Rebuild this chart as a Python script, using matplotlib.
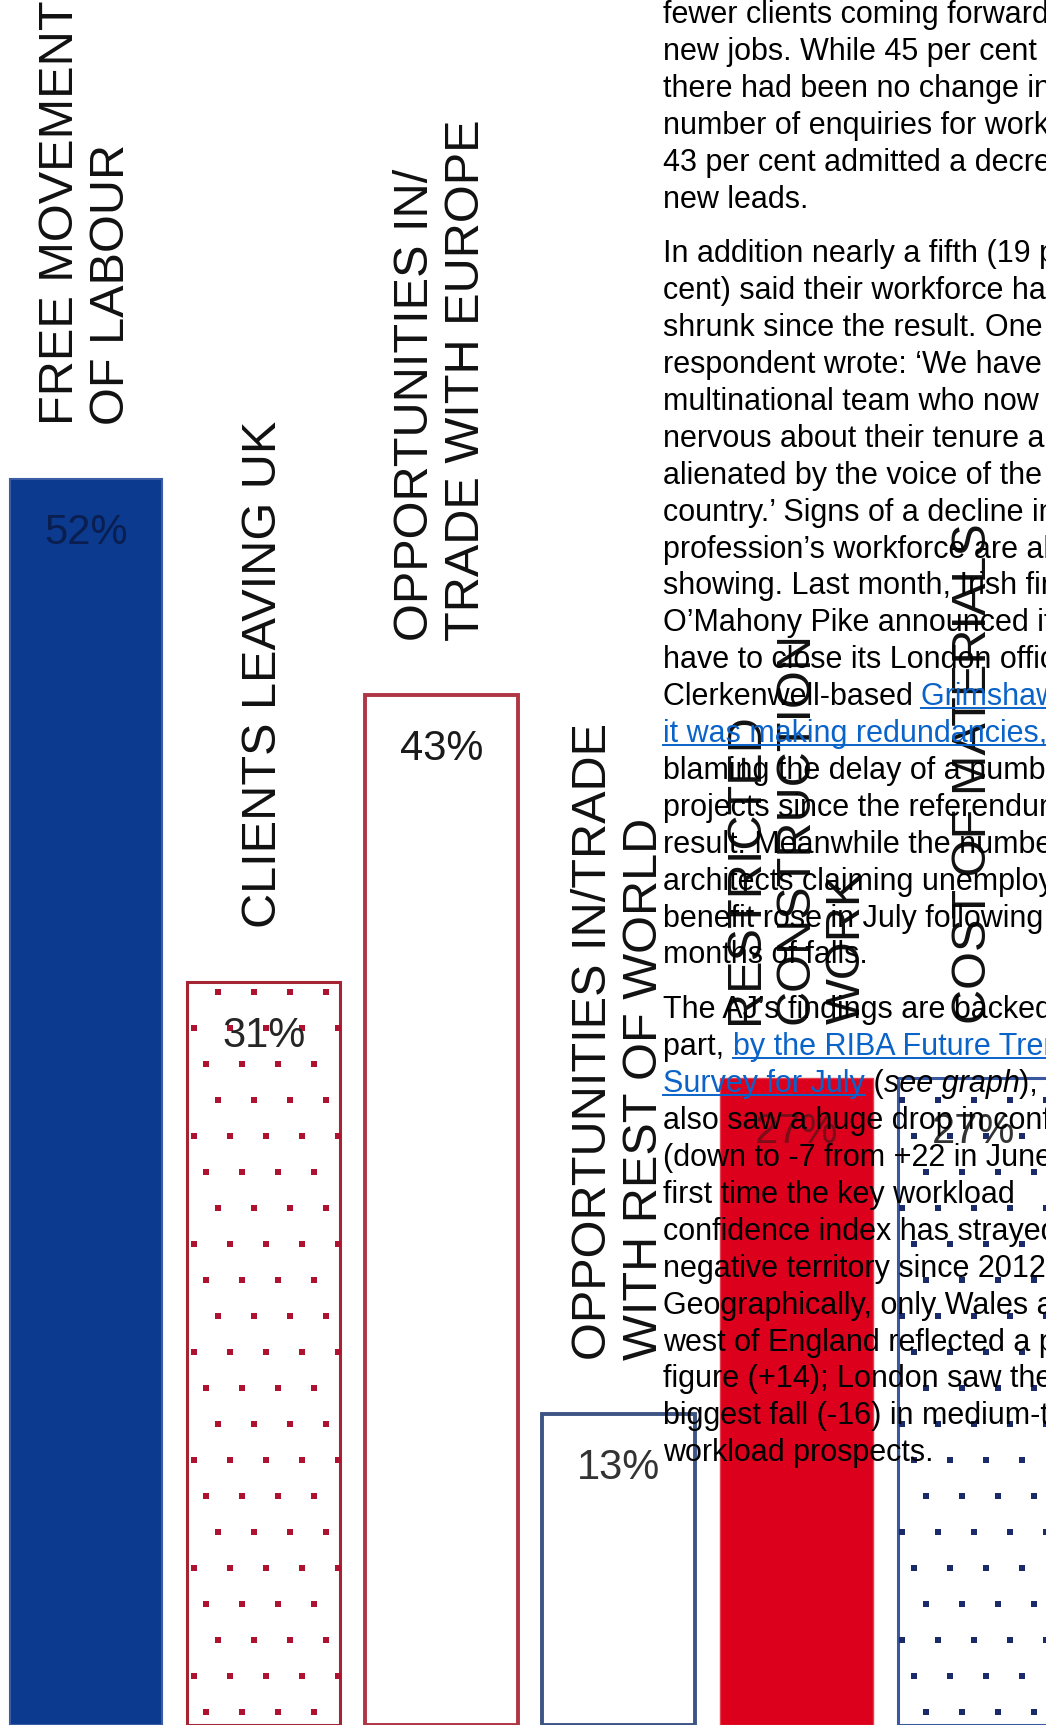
import numpy as np
import matplotlib
matplotlib.use("Agg")
import matplotlib.pyplot as plt
from matplotlib.font_manager import FontProperties
from matplotlib.lines import Line2D
from matplotlib.transforms import IdentityTransform

plt.rcParams['font.family'] = ['Liberation Sans', 'DejaVu Sans']

# survey answers (per cent of respondents)
categories = [
    'FREE MOVEMENT\nOF LABOUR',
    'CLIENTS LEAVING UK',
    'OPPORTUNITIES IN/\nTRADE WITH EUROPE',
    'OPPORTUNITIES IN/TRADE\nWITH REST OF WORLD',
    'RESTRICTED\nCONSTRUCTION\nWORK',
    'COST OF MATERIALS',
]
values = [52, 31, 43, 13, 27, 27]
value_labels = [f'{v}%' for v in values]

fills = ['#0b3a8e', 'white', 'white', 'white', '#dc001c', 'white']
edges = ['#3a5ca5', '#a52535', '#b03545', '#3d5585', '#e2404f', '#3a58a0']
edge_w = [1.5, 2.2, 2.8, 2.8, 1.0, 2.2]
dot_colors = [None, '#ad1230', None, None, None, '#1b2a6b']
label_colors = ['#0a1e50', '#262626', '#1a1a1a', '#333333', '#7a0d18', '#333333']

# article copy running beside the chart: (text, kind) with kind '' / 'a' link / 'i' italic
paragraphs = [
    [
        [('fewer clients coming forward with', '')],
        [('new jobs. While 45 per cent said', '')],
        [('there had been no change in the', '')],
        [('number of enquiries for work,', '')],
        [('43 per cent admitted a decrease in', '')],
        [('new leads.', '')],
    ],
    [
        [('In addition nearly a fifth (19 per', '')],
        [('cent) said their workforce had', '')],
        [('shrunk since the result. One', '')],
        [('respondent wrote: \u2018We have a', '')],
        [('multinational team who now feel', '')],
        [('nervous about their tenure and', '')],
        [('alienated by the voice of the', '')],
        [('country.\u2019 Signs of a decline in the', '')],
        [('profession\u2019s workforce are also', '')],
        [('showing. Last month, Irish firm', '')],
        [('O\u2019Mahony Pike announced it would', '')],
        [('have to close its London office and', '')],
        [('Clerkenwell-based ', ''), ('Grimshaw said', 'a')],
        [('it was making redundancies,', 'a')],
        [('blaming the delay of a number of', '')],
        [('projects since the referendum', '')],
        [('result. Meanwhile the number of', '')],
        [('architects claiming unemployment', '')],
        [('benefit rose in July following', '')],
        [('months of falls.', '')],
    ],
    [
        [('The AJ\u2019s findings are backed up, in', '')],
        [('part, ', ''), ('by the RIBA Future Trends', 'a')],
        [('Survey for July', 'a'), (' (', ''), ('see graph', 'i'), ('), which', '')],
        [('also saw a huge drop in confidence', '')],
        [('(down to -7 from +22 in June) \u2013 the', '')],
        [('first time the key workload', '')],
        [('confidence index has strayed into', '')],
        [('negative territory since 2012.', '')],
        [('Geographically, only Wales and the', '')],
        [('west of England reflected a positive', '')],
        [('figure (+14); London saw the', '')],
        [('biggest fall (-16) in medium-term', '')],
        [('workload prospects.', '')],
    ],
]

W, H = 1046, 1725
fig = plt.figure(figsize=(W / 100, H / 100), dpi=100)
ax = fig.add_axes([0, 0, 1, 1])
ax.set_axis_off()

pitch = 177.6  # px between bar centres
ax.set_xlim(-86 / pitch, (W - 86) / pitch)
ax.set_ylim(0, 72)

x = np.arange(len(values))
bars = ax.bar(x, values, width=0.86, color=fills, edgecolor=edges,
              linewidth=edge_w, zorder=2)

# staggered dot fill, clipped to the bar outline
dot_x, dot_y = [], []
for r in range(-30, 25):
    yy = 992 + 36 * r
    if yy < 0 or yy > H:
        continue
    xs = np.arange((218 + 12 * r) % 36, W + 36, 36)
    dot_x.extend(xs)
    dot_y.extend([H - yy] * len(xs))
for bar, c in zip(bars, dot_colors):
    if c is None:
        continue
    sc = ax.scatter(dot_x, dot_y, s=20, marker='s', color=c, linewidths=0,
                    transform=IdentityTransform(), zorder=3)
    sc.set_clip_path(bar)

for i, v in enumerate(values):
    ax.annotate(value_labels[i], xy=(i, v), xytext=(0, -54),
                textcoords='offset pixels', ha='center', va='center',
                fontsize=30, color=label_colors[i], zorder=4)
    ax.annotate(categories[i], xy=(i, v), xytext=(0, 54),
                textcoords='offset pixels', rotation=90, ha='center',
                va='bottom', multialignment='left', linespacing=1.18,
                fontsize=35, color='#111111', zorder=4)

# article text
ART_PT = 22
LINK = '#0a63c9'
renderer = fig.canvas.get_renderer()
props = {
    '': FontProperties(family='Liberation Sans', size=ART_PT),
    'a': FontProperties(family='Liberation Sans', size=ART_PT),
    'i': FontProperties(family='Liberation Sans', style='italic', size=ART_PT),
}


def advance(s, kind):
    w1, _, _ = renderer.get_text_width_height_descent('x' + s + 'x', props[kind], ismath=False)
    w0, _, _ = renderer.get_text_width_height_descent('xx', props[kind], ismath=False)
    return w1 - w0


left = 663
baseline = 23
step = 36.9
for p, para in enumerate(paragraphs):
    if p > 0:
        baseline += 18
    for line in para:
        xpos = left
        for txt, kind in line:
            fig.text(xpos / W, 1 - baseline / H, txt, fontproperties=props[kind],
                     color=LINK if kind == 'a' else 'black',
                     ha='left', va='baseline')
            if kind == 'a':
                x_end = xpos + advance(txt.rstrip(), kind)
                fig.add_artist(Line2D([xpos / W, x_end / W],
                                      [1 - (baseline + 3) / H] * 2,
                                      transform=fig.transFigure,
                                      color=LINK, lw=1.4))
            xpos += advance(txt, kind)
        baseline += step

fig.savefig('out.png', dpi=100)
